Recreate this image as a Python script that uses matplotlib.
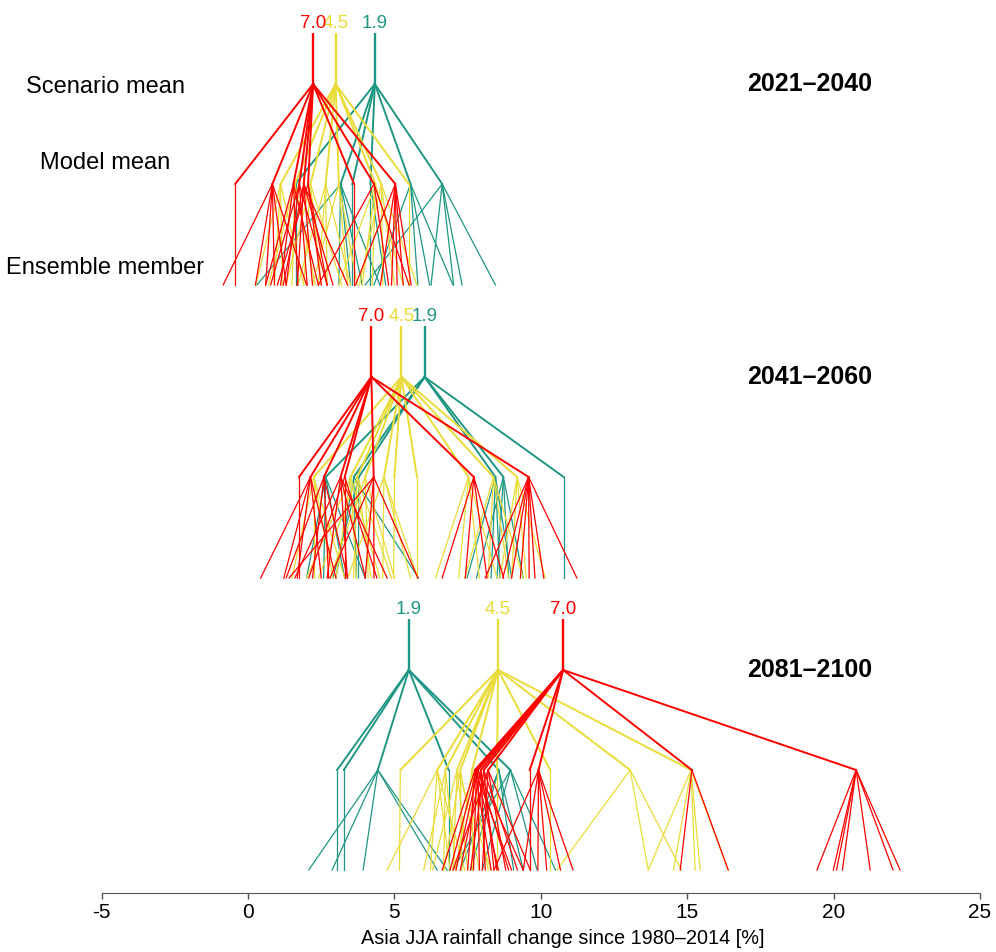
import matplotlib.pyplot as plt

plt.rcParams['font.family'] = ['Liberation Sans', 'DejaVu Sans']

scenarios = ['1.9', '4.5', '7.0']
colors = ['#1F9683', '#E9DC3A', '#FF0000']
periods = ['2021\u20132040', '2041\u20132060', '2081\u20132100']

# scenario means, order 1.9 / 4.5 / 7.0
scen_2021 = [4.33, 2.99, 2.22]
scen_2041 = [6.03, 5.24, 4.21]
scen_2081 = [5.49, 8.54, 10.76]

# 2021-2040 model means and ensemble members
models_2021_19 = [1.62, 3.16, 3.56, 4.18, 5.55, 6.63]
members_2021_19 = [[1.62], [0.3, 3.1, 3.5, 3.9, 4.5], [3.56], [4.18, 4.7],
                   [4.3, 5.8, 6.2, 7.0], [4.0, 6.25, 7.02, 7.31, 8.45]]
models_2021_45 = [1.11, 1.6, 2.13, 2.65, 3.1, 4.35, 4.55, 5.49]
members_2021_45 = [[0.26, 0.9, 1.17, 1.9], [0.7, 1.5, 2.3], [1.3, 1.9, 2.5, 3.2],
                   [1.7, 2.4, 2.7, 3.5], [2.2, 3.4, 3.73], [3.1, 3.9, 4.24, 5.3],
                   [3.8, 4.6, 5.0, 5.77], [5.49]]
models_2021_70 = [-0.44, 0.83, 1.55, 1.75, 1.9, 2.05, 3.62, 4.3, 5.03]
members_2021_70 = [[-0.44], [-0.85, 0.25, 0.6, 0.9, 1.3, 2.0], [0.6, 1.11, 1.7, 2.4],
                   [0.77, 1.3, 2.02, 2.7], [1.2, 1.68, 2.2, 2.9, 3.4], [1.0, 2.5, 2.7],
                   [3.62], [2.4, 4.8, 5.5], [3.67, 4.52, 4.9, 5.09, 5.3, 5.57]]

# 2041-2060
models_2041_19 = [2.65, 3.61, 3.78, 8.45, 8.72, 10.78]
members_2041_19 = [[2.0, 2.58, 3.3, 4.0], [3.0, 3.7, 5.82], [2.9, 3.77],
                   [7.48, 8.3, 8.6, 9.0], [7.8, 8.5, 8.9, 9.4], [10.78]]
models_2041_45 = [2.24, 3.5, 3.73, 4.0, 4.64, 5.0, 5.77, 7.53, 8.38, 9.19]
members_2041_45 = [[1.5, 2.24, 2.9, 3.3], [2.0, 3.0, 3.7, 4.5], [2.4, 3.6, 4.2, 4.9],
                   [2.8, 4.1, 5.0], [3.4, 4.6, 5.55, 5.8], [4.97], [5.77],
                   [6.4, 7.19, 7.9, 8.5], [7.4, 8.2, 8.9, 9.4], [8.6, 9.0, 9.5, 10.15]]
models_2041_70 = [1.74, 2.13, 2.59, 3.16, 3.3, 4.29, 7.71, 9.58]
members_2041_70 = [[1.74], [0.43, 1.22, 1.68, 2.5, 3.0], [1.3, 2.2, 2.75, 3.4],
                   [1.6, 2.7, 3.39, 4.01, 4.75], [2.07, 3.3, 4.4], [1.4, 2.8, 4.0, 4.3, 5.8],
                   [6.63, 7.42, 8.16, 8.73], [8.1, 8.7, 9.0, 9.3, 9.6, 9.8, 10.1, 11.23]]

# 2081-2100
models_2081_19 = [3.04, 3.27, 4.43, 6.85, 8.56, 8.96]
members_2081_19 = [[3.04], [3.27], [2.07, 2.87, 3.93, 6.46, 6.8], [6.85],
                   [7.25, 7.6, 9.07, 9.4], [7.0, 8.0, 9.87, 10.5]]
models_2081_45 = [5.2, 6.46, 6.74, 7.14, 7.25, 7.65, 8.5, 10.32, 13.05, 15.13]
members_2081_45 = [[5.17], [4.75, 6.23, 6.9, 7.4], [6.0, 6.68, 7.1], [6.3, 7.0, 7.5, 8.3],
                   [6.7, 7.3, 7.9], [7.1, 7.65, 8.2], [8.5], [10.32],
                   [10.55, 13.67, 14.8], [13.67, 14.53, 15.27, 15.44, 16.4]]
models_2081_70 = [7.75, 7.8, 7.85, 7.95, 8.05, 8.2, 9.62, 9.92, 15.16, 20.77]
members_2081_70 = [[6.63, 7.5, 8.3, 9.0], [6.9, 7.7, 8.55], [7.1, 7.9, 8.9, 9.4],
                   [7.25, 8.1, 8.5], [7.6, 8.4, 9.2], [7.0, 8.0, 8.8, 9.64],
                   [9.62], [8.4, 9.4, 9.9, 10.2, 10.67, 11.1], [14.76, 16.4],
                   [19.43, 19.99, 20.1, 20.3, 21.25, 22.03, 22.27]]

panels = [
    (scen_2021, [models_2021_19, models_2021_45, models_2021_70],
     [members_2021_19, members_2021_45, members_2021_70]),
    (scen_2041, [models_2041_19, models_2041_45, models_2041_70],
     [members_2041_19, members_2041_45, members_2041_70]),
    (scen_2081, [models_2081_19, models_2081_45, models_2081_70],
     [members_2081_19, members_2081_45, members_2081_70]),
]

# vertical layout (pixels from top): line top, scenario mean, model mean, member
levels = [(33, 84, 184, 285), (326, 377, 477, 578), (619, 670, 770, 870)]

W, H = 996, 952
fig = plt.figure(figsize=(W / 100, H / 100), dpi=100)
ax_bottom = 892.7
ax = fig.add_axes([101.7 / W, (H - ax_bottom) / H, (980 - 101.7) / W, ax_bottom / H])
ax.set_xlim(-5, 25)
ax.set_ylim(ax_bottom, 0)

for (scen, models, members), (top, ys, ym, ye), period in zip(panels, levels, periods):
    for k in range(3):
        c = colors[k]
        s = scen[k]
        ax.plot([s, s], [top, ys], color=c, lw=1.7, solid_capstyle='butt')
        for m, mem in zip(models[k], members[k]):
            ax.plot([s, m], [ys, ym], color=c, lw=1.4)
            for e in mem:
                ax.plot([m, e], [ym, ye], color=c, lw=0.9)
        ax.text(s, top - 9.5, scenarios[k], color=c, fontsize=13.5,
                ha='center', va='center')
    fig.text(810 / W, 1 - ys / H, period, fontsize=18, fontweight='bold',
             ha='center', va='center')

fig.text(105 / W, 1 - 87 / H, 'Scenario mean', fontsize=17, ha='center', va='center')
fig.text(105 / W, 1 - 163 / H, 'Model mean', fontsize=17, ha='center', va='center')
fig.text(105 / W, 1 - 268 / H, 'Ensemble member', fontsize=17, ha='center', va='center')

for side in ['top', 'right', 'left']:
    ax.spines[side].set_visible(False)
ax.spines['bottom'].set_color('#555555')
ax.set_yticks([])
ax.set_xticks([-5, 0, 5, 10, 15, 20, 25])
ax.set_xticklabels(['-5', '0', '5', '10', '15', '20', '25'])
ax.tick_params(axis='x', length=4.5, width=1, color='#555555', labelsize=15, pad=3)
fig.text(563 / W, 1 - 938 / H, 'Asia JJA rainfall change since 1980\u20132014 [%]',
         fontsize=14.3, ha='center', va='center')
ax.patch.set_visible(False)

fig.savefig('out.png', dpi=100)
